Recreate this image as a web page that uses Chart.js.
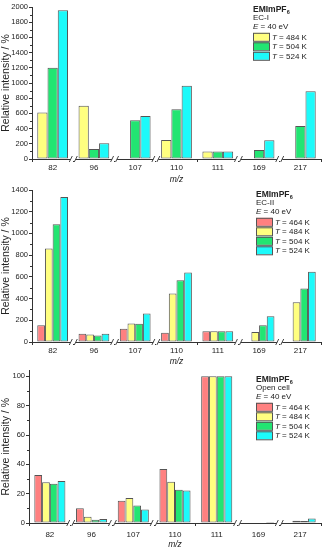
<!DOCTYPE html>
<html>
<head>
<meta charset="utf-8">
<script src="https://cdn.jsdelivr.net/npm/chart.js@4.4.1/dist/chart.umd.min.js"></script>
<style>
body { margin: 0; background: #fff; }
#wrap { position: relative; width: 325px; height: 550px; overflow: hidden; }
canvas { position: absolute; left: 0; }
</style>
</head>
<body>
<div id="wrap">
  <canvas id="c1" width="325" height="185" style="top:0px"></canvas>
  <canvas id="c2" width="325" height="185" style="top:182px"></canvas>
  <canvas id="c3" width="325" height="185" style="top:365px"></canvas>
</div>
<script>
const massLabels = ['82', '96', '107', '110', '111', '169', '217'];
const tempLabels = ['464 K', '484 K', '504 K', '524 K'];

// EC-I
const ec1_484 = [612, 700, null, 250, 100, null, null];
const ec1_504 = [1200, 130, 510, 656, 100, 118, 435];
const ec1_524 = [1958, 206, 565, 963, 100, 248, 892];

// EC-II
const ec2_464 = [154, 75, 123, 86, 100, null, null];
const ec2_484 = [862, 70, 170, 446, 100, 92, 366];
const ec2_504 = [1084, 60, 168, 569, 100, 154, 492];
const ec2_524 = [1336, 75, 262, 640, 100, 237, 648];

// Open cell
const oc_464 = [32.8, 10.0, 15.2, 36.9, 100, 0, 0];
const oc_484 = [27.8, 4.2, 17.1, 28.2, 100, 0, 1.5];
const oc_504 = [26.7, 2.3, 11.9, 22.7, 100, 0.3, 1.4];
const oc_524 = [28.7, 2.8, 9.2, 22.1, 100, 0.7, 3.0];

// y tick values per panel
const ticksEC1 = [0, 200, 400, 600, 800, 1000, 1200, 1400, 1600, 1800, 2000];
const ticksEC2 = [0, 200, 400, 600, 800, 1000, 1200, 1400];
const ticksOC = [0, 20, 40, 60, 80, 100];

const breakAfter = [0, 1, 2, 4, 5];

const colors = {
    '464 K': '#FF8080',
    '484 K': '#FFFF80',
    '504 K': '#22E572',
    '524 K': '#1CFAFA'
};

const FONT = "'Liberation Sans', Arial, sans-serif";
const INK = '#222';

function ds(label, data) {
    return {
        label: label,
        data: data,
        backgroundColor: colors[label],
        borderColor: '#555',
        borderWidth: 1,
        borderSkipped: false,
        categoryPercentage: 0.745,
        barPercentage: 1.0
    };
}

// legend block, axis breaks and minor ticks
const extras = {
    id: 'extras',
    afterDraw(chart, args, opts) {
        const ctx = chart.ctx;
        const area = chart.chartArea;
        const xs = chart.scales.x;
        const ys = chart.scales.y;
        ctx.save();

        // minor y ticks
        ctx.strokeStyle = '#333';
        ctx.lineWidth = 1;
        const t = opts.yticks;
        for (let i = 0; i < t.length - 1; i++) {
            const py = Math.round(ys.getPixelForValue((t[i] + t[i + 1]) / 2)) + 0.5;
            ctx.beginPath();
            ctx.moveTo(area.left - 2, py);
            ctx.lineTo(area.left, py);
            ctx.stroke();
        }

        // axis breaks
        breakAfter.forEach(i => {
            const bx = (xs.getPixelForValue(i) + xs.getPixelForValue(i + 1)) / 2;
            const by = area.bottom;
            ctx.fillStyle = '#fff';
            ctx.fillRect(bx - 2.5, by - 2, 5, 4);
            ctx.strokeStyle = '#444';
            ctx.beginPath();
            ctx.moveTo(bx - 4, by + 3);
            ctx.lineTo(bx - 1, by - 3);
            ctx.moveTo(bx + 1, by + 3);
            ctx.lineTo(bx + 4, by - 3);
            ctx.stroke();
        });

        // text block + legend
        const x0 = opts.x, y0 = opts.y;
        ctx.fillStyle = INK;
        ctx.textBaseline = 'middle';
        ctx.textAlign = 'left';
        ctx.font = 'bold 8.5px ' + FONT;
        ctx.fillText('EMImPF', x0, y0);
        const w = ctx.measureText('EMImPF').width;
        ctx.font = 'bold 5.5px ' + FONT;
        ctx.fillText('6', x0 + w + 0.3, y0 + 2);
        ctx.font = '8px ' + FONT;
        ctx.fillText(opts.cell, x0, y0 + 7.8);
        ctx.font = 'italic 8px ' + FONT;
        ctx.fillText('E', x0, y0 + 17);
        let ew = ctx.measureText('E').width;
        ctx.font = '8px ' + FONT;
        ctx.fillText(' = 40 eV', x0 + ew, y0 + 17);

        chart.data.datasets.forEach((d, k) => {
            const cy = y0 + 26.8 + k * 9.5;
            ctx.fillStyle = d.backgroundColor;
            ctx.fillRect(x0, cy - 4, 16, 8);
            ctx.strokeStyle = '#555';
            ctx.strokeRect(x0 + 0.5, cy - 3.5, 16, 8);
            ctx.fillStyle = INK;
            ctx.font = 'italic 8px ' + FONT;
            ctx.fillText('T', x0 + 19, cy + 0.5);
            const tw = ctx.measureText('T').width;
            ctx.font = '8px ' + FONT;
            ctx.fillText(' = ' + d.label, x0 + 19 + tw, cy + 0.5);
        });
        ctx.restore();
    }
};

function makeChart(id, datasets, yMax, yTicks, p) {
    return new Chart(document.getElementById(id), {
        type: 'bar',
        data: { labels: massLabels, datasets: datasets },
        options: {
            responsive: false,
            animation: false,
            layout: { padding: { top: p.top, right: 4, left: 0, bottom: 0 } },
            plugins: {
                legend: { display: false },
                tooltip: { enabled: false },
                extras: { x: p.lx, y: p.ly, cell: p.cell, yticks: yTicks }
            },
            scales: {
                x: {
                    afterFit: s => { s.height = p.xh; },
                    grid: { display: true, drawOnChartArea: false, drawTicks: true, tickLength: 3, color: '#333' },
                    border: { color: '#333', width: 1 },
                    ticks: { color: INK, font: { family: FONT, size: 8 }, padding: p.xpad, maxRotation: 0, autoSkip: false },
                    title: {
                        display: true,
                        text: 'm/z',
                        color: INK,
                        font: { family: FONT, size: 8.5, style: 'italic' },
                        padding: 0
                    }
                },
                y: {
                    min: 0,
                    max: yMax,
                    afterFit: s => { s.width = p.left; },
                    afterBuildTicks: s => { s.ticks = yTicks.map(v => ({ value: v })); },
                    grid: { display: true, drawOnChartArea: false, drawTicks: true, tickLength: 3, color: '#333' },
                    border: { color: '#333', width: 1 },
                    ticks: {
                        autoSkip: false,
                        color: INK,
                        font: { family: FONT, size: 7.5 },
                        padding: 1,
                        callback: v => String(v)
                    },
                    title: {
                        display: true,
                        text: 'Relative intensity / %',
                        color: INK,
                        font: { family: FONT, size: 10.5 },
                        padding: 0
                    }
                }
            }
        },
        plugins: [extras]
    });
}

makeChart('c1', [ds('484 K', ec1_484), ds('504 K', ec1_504), ds('524 K', ec1_524)], 2000, ticksEC1,
    { top: 7, left: 32, xh: 26, xpad: 1, lx: 253, ly: 10, cell: 'EC-I' });

makeChart('c2', [ds('464 K', ec2_464), ds('484 K', ec2_484), ds('504 K', ec2_504), ds('524 K', ec2_524)], 1400, ticksEC2,
    { top: 8, left: 32, xh: 25, xpad: 1, lx: 256, ly: 13, cell: 'EC-II' });

makeChart('c3', [ds('464 K', oc_464), ds('484 K', oc_484), ds('504 K', oc_504), ds('524 K', oc_524)], 104, ticksOC,
    { top: 5, left: 29, xh: 27, xpad: 4, lx: 256, ly: 15, cell: 'Open cell' });
</script>
</body>
</html>
